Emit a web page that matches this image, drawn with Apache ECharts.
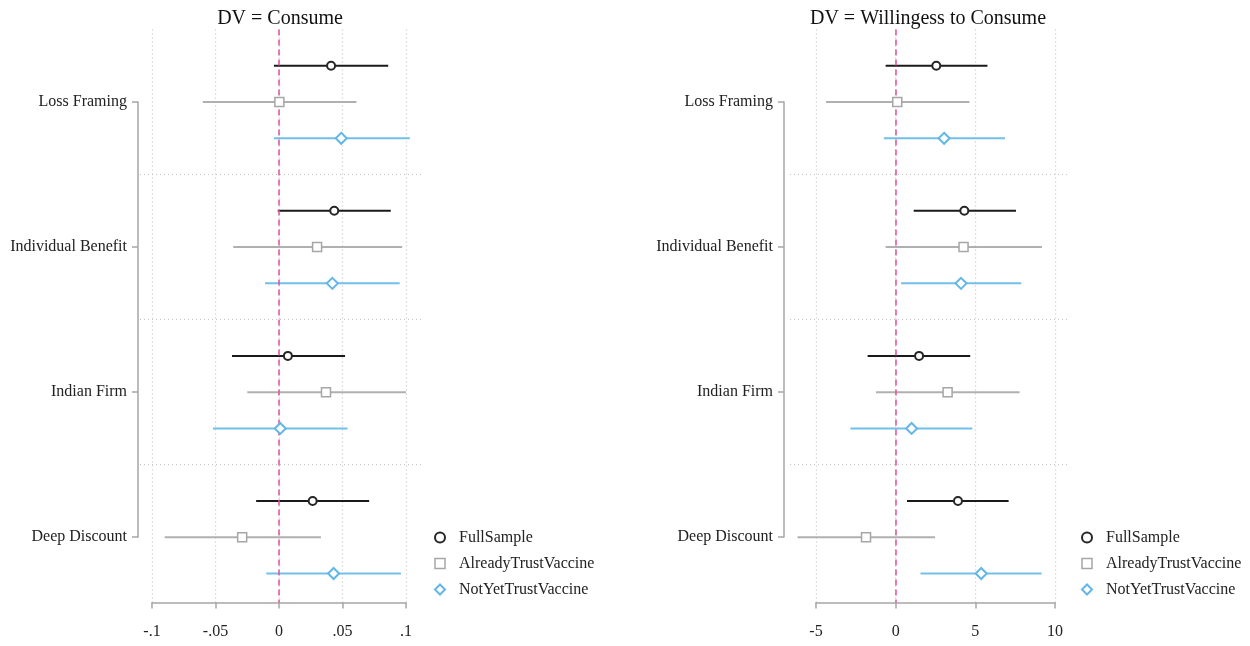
<!DOCTYPE html>
<html>
<head>
<meta charset="utf-8">
<script src="https://cdn.jsdelivr.net/npm/echarts@6/dist/echarts.min.js"></script>
<style>
  html, body { margin: 0; padding: 0; background: #fff; }
  #main { width: 1250px; height: 646px; }
</style>
</head>
<body>
<div id="main"></div>
<script>
// categories (top to bottom) and groups
var categories = ["Loss Framing", "Individual Benefit", "Indian Firm", "Deep Discount"];
var groups = ["FullSample", "AlreadyTrustVaccine", "NotYetTrustVaccine"];

// DV = Consume : estimate, lower and upper bound
var consumeFullEst = [0.041, 0.0435, 0.007, 0.0265];
var consumeFullLo = [-0.004, -0.001, -0.037, -0.018];
var consumeFullHi = [0.086, 0.088, 0.052, 0.071];
var consumeAlreadyEst = [0.0003, 0.030, 0.037, -0.029];
var consumeAlreadyLo = [-0.060, -0.036, -0.025, -0.090];
var consumeAlreadyHi = [0.061, 0.097, 0.100, 0.033];
var consumeNotYetEst = [0.049, 0.042, 0.001, 0.043];
var consumeNotYetLo = [-0.004, -0.011, -0.052, -0.010];
var consumeNotYetHi = [0.103, 0.095, 0.054, 0.096];

// DV = Willingess to Consume
var willFullEst = [2.55, 4.31, 1.47, 3.91];
var willFullLo = [-0.63, 1.13, -1.76, 0.71];
var willFullHi = [5.76, 7.55, 4.68, 7.09];
var willAlreadyEst = [0.10, 4.26, 3.26, -1.86];
var willAlreadyLo = [-4.37, -0.63, -1.23, -6.16];
var willAlreadyHi = [4.63, 9.18, 7.78, 2.47];
var willNotYetEst = [3.04, 4.10, 1.00, 5.37];
var willNotYetLo = [-0.74, 0.34, -2.84, 1.56];
var willNotYetHi = [6.86, 7.88, 4.81, 9.16];

// x ticks
var consumeTicks = [-0.1, 0.05]; // min, interval
var consumeMax = 0.1;
var willTicks = [-5, 5];
var willMax = 10;

var font = "Liberation Serif";
var colors = ["#1a1a1a", "#b0b0b0", "#72bfea"];
var markerColors = ["#262626", "#a6a6a6", "#62b6e8"];
var symbols = ["circle", "rect", "diamond"];
var symbolSizes = [8, 9, 11];
var offsets = [-0.25, 0, 0.25];

// pixel layout of each panel
var layout = [
  { plotL: 140, plotR: 421, tickL: 152, tickR: 406, axisX: 138, titleX: 280, legendX: 434 },
  { plotL: 790, plotR: 1067, tickL: 816, tickR: 1055, axisX: 784, titleX: 928, legendX: 1081 }
];
var plotTop = 29.5, plotH = 573;
var dotted = { color: "#c4c4c4", type: [1, 3], width: 1.2 };

var myChart = echarts.init(document.getElementById("main"));

var panels = [
  {
    title: "DV = Consume",
    min: consumeTicks[0], interval: consumeTicks[1], max: consumeMax,
    est: [consumeFullEst, consumeAlreadyEst, consumeNotYetEst],
    lo: [consumeFullLo, consumeAlreadyLo, consumeNotYetLo],
    hi: [consumeFullHi, consumeAlreadyHi, consumeNotYetHi],
    fmt: function (v) {
      v = Math.round(v * 100) / 100;
      if (v === 0) return "0";
      return String(v).replace("0.", ".");
    }
  },
  {
    title: "DV = Willingess to Consume",
    min: willTicks[0], interval: willTicks[1], max: willMax,
    est: [willFullEst, willAlreadyEst, willNotYetEst],
    lo: [willFullLo, willAlreadyLo, willNotYetLo],
    hi: [willFullHi, willAlreadyHi, willNotYetHi],
    fmt: function (v) { return String(Math.round(v)); }
  }
];

var grid = [], xAxis = [], yAxis = [], series = [], title = [], legend = [];

panels.forEach(function (p, k) {
  var L = layout[k];
  var per = (p.max - p.min) / (L.tickR - L.tickL);
  var dataMin = p.min - (L.tickL - L.plotL) * per;
  var dataMax = p.max + (L.plotR - L.tickR) * per;
  var base = k * 3;

  // plot grid (data), tick grid (x axis), spine grid (y axis)
  grid.push({ left: L.plotL, top: plotTop, width: L.plotR - L.plotL, height: plotH });
  grid.push({ left: L.tickL, top: plotTop, width: L.tickR - L.tickL, height: plotH });
  grid.push({ left: L.axisX, top: 102, width: 1, height: 435 });

  xAxis.push({ gridIndex: base, type: "value", min: dataMin, max: dataMax, show: false });
  xAxis.push({
    gridIndex: base + 1, type: "value", min: p.min, max: p.max, interval: p.interval,
    position: "bottom", offset: 6.5,
    axisLine: { lineStyle: { color: "#a6a6a6", width: 1.5 } },
    axisTick: { length: 6, lineStyle: { color: "#a6a6a6", width: 1.5 } },
    axisLabel: { margin: 15, fontSize: 16, color: "#222", fontFamily: font, formatter: p.fmt },
    splitLine: { show: true, lineStyle: dotted }
  });
  xAxis.push({ gridIndex: base + 2, type: "value", min: 0, max: 1, show: false });

  yAxis.push({ gridIndex: base, type: "value", min: -0.5, max: 3.45, inverse: true, show: false });
  yAxis.push({ gridIndex: base + 1, type: "value", min: 0, max: 1, show: false });
  yAxis.push({
    gridIndex: base + 2, type: "value", min: 0, max: categories.length - 1, interval: 1, inverse: true,
    axisLine: { show: true, lineStyle: { color: "#a6a6a6", width: 1.5 } },
    axisTick: { show: true, length: 6, lineStyle: { color: "#a6a6a6", width: 1.5 } },
    axisLabel: {
      margin: 11, fontSize: 16, color: "#222", fontFamily: font, padding: [4, 0, 0, 0],
      formatter: function (v) { return categories[Math.round(v)] || ""; }
    },
    splitLine: { show: false }
  });

  groups.forEach(function (g, gi) {
    var bars = categories.map(function (c, i) {
      return [i + offsets[gi], p.lo[gi][i], p.hi[gi][i]];
    });
    var pts = categories.map(function (c, i) {
      return [p.est[gi][i], i + offsets[gi]];
    });
    var s = {
      name: g,
      type: "custom",
      xAxisIndex: base, yAxisIndex: base,
      data: bars,
      encode: { x: [1, 2], y: 0 },
      z: 3,
      renderItem: (function (col) {
        return function (params, api) {
          var y = api.value(0);
          var a = api.coord([api.value(1), y]);
          var b = api.coord([api.value(2), y]);
          return {
            type: "line",
            shape: { x1: a[0], y1: a[1], x2: b[0], y2: b[1] },
            style: { stroke: col, lineWidth: 2 }
          };
        };
      })(colors[gi])
    };
    if (gi === 0) {
      s.markLine = {
        silent: true, symbol: "none", animation: false,
        label: { show: false },
        data: [
          { yAxis: 0.5, lineStyle: dotted },
          { yAxis: 1.5, lineStyle: dotted },
          { yAxis: 2.5, lineStyle: dotted },
          { xAxis: 0, lineStyle: { color: "#e0529b", type: [6, 4], width: 1.5 } }
        ]
      };
    }
    series.push(s);
    series.push({
      name: g,
      type: "scatter",
      xAxisIndex: base, yAxisIndex: base,
      data: pts,
      symbol: symbols[gi],
      symbolSize: symbolSizes[gi],
      z: 5,
      itemStyle: { color: "#fff", borderColor: markerColors[gi], borderWidth: gi === 1 ? 1.5 : 2, opacity: 1 }
    });
  });

  title.push({
    text: p.title, left: L.titleX, top: 9, textAlign: "center", padding: 0,
    textStyle: { fontFamily: font, fontSize: 20, fontWeight: "normal", color: "#111" }
  });

  legend.push({
    orient: "vertical", left: L.legendX, top: 528, padding: 0,
    itemWidth: 10, itemHeight: 10, itemGap: 7,
    textStyle: { fontFamily: font, fontSize: 16, color: "#222", lineHeight: 16, padding: [3, 0, 0, 9] },
    selectedMode: false,
    data: groups.map(function (g, gi) {
      return {
        name: g, icon: symbols[gi],
        itemStyle: { color: "#fff", borderColor: markerColors[gi], borderWidth: gi === 1 ? 1.5 : 2 }
      };
    })
  });
});

myChart.setOption({
  backgroundColor: "#fff",
  animation: false,
  textStyle: { fontFamily: font },
  title: title,
  legend: legend,
  grid: grid,
  xAxis: xAxis,
  yAxis: yAxis,
  series: series
});
</script>
</body>
</html>
